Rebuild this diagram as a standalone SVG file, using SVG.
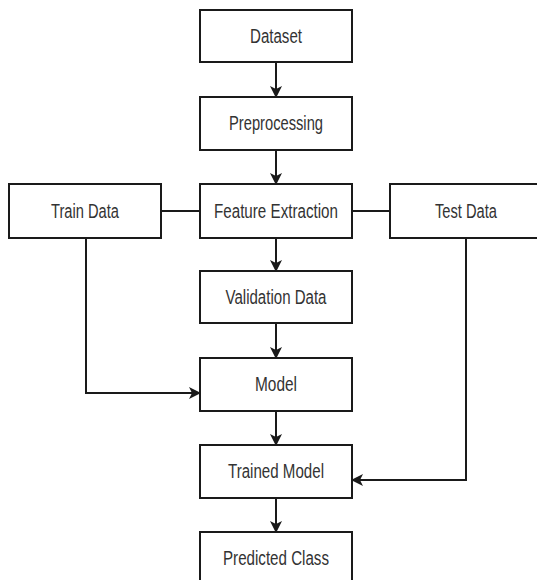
<svg xmlns="http://www.w3.org/2000/svg" width="537" height="580" viewBox="0 0 537 580">
<style>
.box{fill:#fff;stroke:#1a1a1a;stroke-width:2}
.lbl{font-family:"Liberation Sans",Arial,sans-serif;font-size:20px;fill:#333;text-anchor:middle}
.con{fill:none;stroke:#1a1a1a;stroke-width:2}
</style>
<defs>
<marker id="ah" markerUnits="userSpaceOnUse" markerWidth="12" markerHeight="12" viewBox="0 0 12 12" refX="11" refY="6" orient="auto">
<path d="M0,0 L12,6 L0,12 L3,6 z" fill="#1a1a1a"/>
</marker>
</defs>
<rect width="537" height="580" fill="#fff"/>
<g id="connectors">
<line class="con" x1="276" y1="62" x2="276" y2="97" marker-end="url(#ah)"/>
<line class="con" x1="276" y1="150" x2="276" y2="184" marker-end="url(#ah)"/>
<line class="con" x1="276" y1="238" x2="276" y2="271" marker-end="url(#ah)"/>
<line class="con" x1="276" y1="323" x2="276" y2="358" marker-end="url(#ah)"/>
<line class="con" x1="276" y1="411" x2="276" y2="445" marker-end="url(#ah)"/>
<line class="con" x1="276" y1="498" x2="276" y2="532" marker-end="url(#ah)"/>
<line class="con" x1="161" y1="211" x2="200" y2="211"/>
<line class="con" x1="352" y1="211" x2="390" y2="211"/>
<polyline class="con" points="86,238 86,393 200,393" marker-end="url(#ah)"/>
<polyline class="con" points="466,238 466,480 352,480" marker-end="url(#ah)"/>
</g>
<g id="dataset"><rect class="box" x="200" y="10" width="152" height="52"/><text class="lbl" x="276" y="43" textLength="52" lengthAdjust="spacingAndGlyphs">Dataset</text></g>
<g id="preprocessing"><rect class="box" x="200" y="97" width="152" height="53"/><text class="lbl" x="276" y="130" textLength="94" lengthAdjust="spacingAndGlyphs">Preprocessing</text></g>
<g id="train-data"><rect class="box" x="9" y="184" width="152" height="54"/><text class="lbl" x="85" y="218" textLength="68" lengthAdjust="spacingAndGlyphs">Train Data</text></g>
<g id="feature-extraction"><rect class="box" x="200" y="184" width="152" height="54"/><text class="lbl" x="276" y="218" textLength="124" lengthAdjust="spacingAndGlyphs">Feature Extraction</text></g>
<g id="test-data"><rect class="box" x="390" y="184" width="152" height="54"/><text class="lbl" x="466" y="218" textLength="62" lengthAdjust="spacingAndGlyphs">Test Data</text></g>
<g id="validation-data"><rect class="box" x="200" y="271" width="152" height="52"/><text class="lbl" x="276" y="304" textLength="101" lengthAdjust="spacingAndGlyphs">Validation Data</text></g>
<g id="model"><rect class="box" x="200" y="358" width="152" height="53"/><text class="lbl" x="276" y="391" textLength="42" lengthAdjust="spacingAndGlyphs">Model</text></g>
<g id="trained-model"><rect class="box" x="200" y="445" width="152" height="53"/><text class="lbl" x="276" y="478" textLength="96" lengthAdjust="spacingAndGlyphs">Trained Model</text></g>
<g id="predicted-class"><rect class="box" x="200" y="532" width="152" height="53"/><text class="lbl" x="276" y="565" textLength="106" lengthAdjust="spacingAndGlyphs">Predicted Class</text></g>
</svg>
